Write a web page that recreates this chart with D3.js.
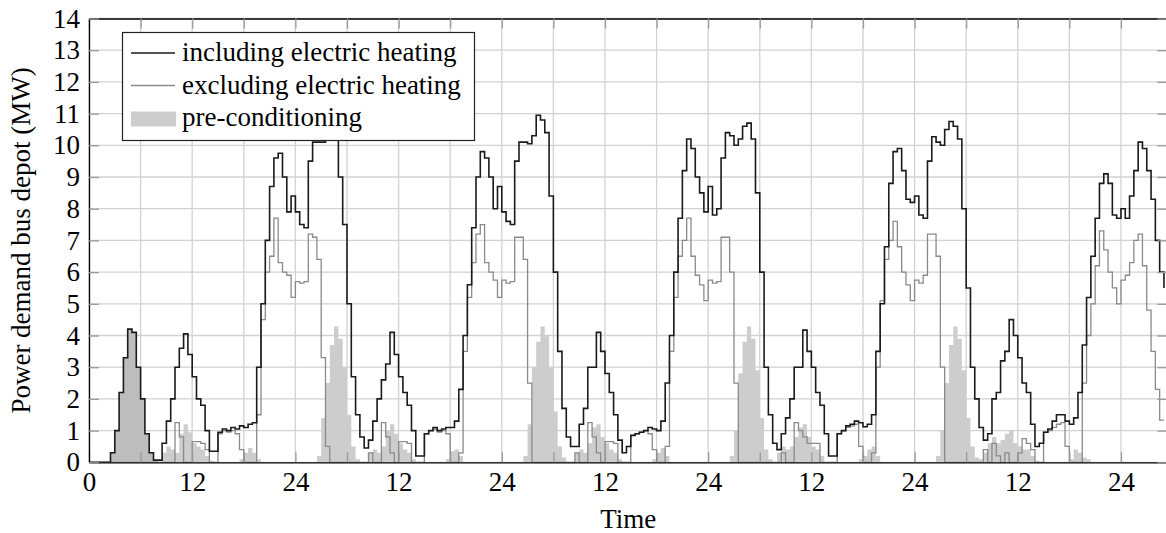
<!DOCTYPE html>
<html>
<head>
<meta charset="utf-8">
<script src="https://cdn.jsdelivr.net/npm/d3@7"></script>
<style>
  body { margin: 0; background: #fff; }
</style>
</head>
<body>
<div class="chart"></div>
<script>
// one value every half hour, hour 0 .. 125 (one row = 12 hours)
const stepHours = 0.5;

const includingHeating = [
  0, 0, 0, 0, 0, 0.3, 1.0, 2.2, 3.3, 4.2, 4.1, 3.0, 2.0, 0.9, 0.3, 0.07, 0.07, 0.6, 1.3, 2.0, 3.0, 3.6, 4.05, 3.4,
  2.7, 2.0, 1.8, 1.0, 0.35, 0.35, 0.95, 1.05, 1.0, 1.1, 1.05, 1.15, 1.1, 1.2, 1.25, 3.0, 5.0, 7.0, 8.7, 9.6, 9.75, 9.0, 7.9, 8.4,
  7.9, 7.5, 7.4, 9.5, 10.1, 10.1, 10.1, 10.4, 10.9, 10.5, 9.0, 7.5, 5.0, 2.7, 1.5, 0.8, 0.45, 0.7, 1.3, 2.0, 2.6, 3.1, 4.1, 3.4,
  2.7, 2.2, 1.8, 1.0, 0.2, 0.2, 0.9, 1.0, 1.1, 1.0, 1.05, 1.1, 1.1, 1.3, 2.3, 4.0, 5.6, 7.4, 9.0, 9.8, 9.6, 9.0, 8.0, 8.7,
  7.9, 7.6, 7.5, 9.5, 10.1, 10.1, 10.05, 10.3, 10.95, 10.8, 10.4, 8.4, 6.0, 3.5, 1.7, 0.8, 0.5, 0.5, 1.2, 1.7, 3.0, 3.0, 4.1, 3.5,
  2.8, 2.2, 1.5, 0.7, 0.3, 0.5, 0.85, 0.9, 0.95, 1.0, 1.1, 1.05, 1.0, 1.3, 2.5, 4.0, 6.0, 7.7, 9.2, 10.2, 9.9, 9.0, 8.5, 7.9,
  8.7, 7.8, 8.0, 9.6, 10.4, 10.3, 10.0, 10.2, 10.6, 10.7, 10.2, 8.5, 6.0, 3.0, 1.5, 0.6, 0.4, 0.9, 1.4, 2.0, 3.0, 3.0, 4.17, 3.5,
  3.0, 2.2, 1.8, 0.9, 0.2, 0.2, 0.9, 1.0, 1.15, 1.2, 1.3, 1.25, 1.12, 1.2, 1.5, 3.5, 5.0, 6.8, 8.8, 9.8, 9.9, 9.2, 8.3, 8.2,
  8.4, 7.8, 7.7, 9.5, 10.27, 10.1, 10.0, 10.5, 10.75, 10.6, 10.2, 8.0, 5.5, 3.0, 2.0, 1.1, 0.7, 0.9, 2.0, 2.2, 3.2, 3.5, 4.5, 4.0,
  3.3, 2.5, 2.2, 1.2, 0.5, 0.6, 0.95, 1.05, 1.3, 1.5, 1.5, 1.3, 1.2, 1.4, 2.2, 3.7, 5.2, 6.5, 7.7, 8.8, 9.1, 8.8, 7.8, 7.7,
  8.0, 7.7, 8.4, 9.2, 10.1, 9.9, 9.2, 8.3, 7.0, 6.0, 5.5
];

const excludingHeating = [
  0, 0, 0, 0, 0, 0, 0, 0, 0, 0, 0, 0, 0, 0, 0, 0, 0, 0, 0, 0, 1.25, 0.8, 0, 0,
  0.65, 0.65, 0.6, 0.4, 0, 0, 0.9, 1.0, 0.95, 1.0, 0.9, 0.4, 0, 0, 0, 1.5, 4.5, 6.0, 6.5, 7.7, 6.3, 6.0, 5.9, 5.2,
  5.7, 5.65, 5.7, 7.2, 7.1, 6.4, 3.3, 0.5, 0, 0, 0, 0, 0, 0, 0, 0, 0, 0.3, 0, 0, 1.25, 0.8, 0.3, 0,
  0.65, 0.65, 0.6, 0, 0, 0, 0.9, 1.0, 1.05, 0.95, 1.0, 0.9, 0, 0, 0.3, 3.5, 5.2, 6.3, 7.2, 7.5, 6.3, 6.0, 5.75, 5.2,
  5.75, 5.65, 5.7, 7.1, 7.1, 6.4, 2.5, 0, 0, 0, 0, 0, 0, 0, 0, 0, 0, 0.3, 0, 0, 1.25, 0.8, 0.3, 0,
  0.65, 0.65, 0.6, 0, 0, 0, 0.85, 0.9, 0.95, 1.0, 0.9, 0.4, 0, 0, 0.5, 3.5, 5.2, 6.5, 7.0, 7.7, 6.5, 5.9, 5.6, 5.1,
  5.75, 5.65, 5.7, 7.1, 7.1, 6.0, 2.5, 0, 0, 0, 0, 0, 0, 0, 0, 0, 0, 0.3, 0, 0, 1.25, 1.0, 0.8, 0.6,
  0.6, 0.6, 0, 0, 0, 0, 0.9, 1.0, 1.1, 1.15, 1.2, 0.5, 0, 0, 0.3, 3.0, 5.1, 6.4, 7.0, 7.6, 6.8, 6.0, 5.6, 5.1,
  5.75, 5.65, 5.9, 7.2, 7.2, 6.5, 3.0, 0, 0, 0, 0, 0, 0, 0, 0, 0, 0.4, 0, 0.6, 0.2, 0, 0.3, 0, 0,
  0.3, 0.75, 0.6, 0.4, 0, 0, 0.95, 1.0, 1.1, 1.2, 1.25, 0.5, 0, 0, 0, 2.5, 4.0, 5.0, 6.2, 7.3, 6.7, 6.0, 5.5, 5.0,
  5.75, 5.9, 6.3, 7.0, 7.2, 6.2, 4.8, 3.5, 2.3, 1.33, 1.33
];

const preconditioning = [
  0, 0, 0, 0, 0, 0.3, 1.0, 2.2, 3.3, 4.2, 4.1, 3.0, 2.0, 0.9, 0.3, 0.05, 0, 0.3, 0.5, 0.4, 0.3, 0.9, 1.2, 0.95,
  0.6, 0.5, 0.4, 0.2, 0.05, 0, 0, 0, 0, 0, 0, 0.1, 0.3, 0.45, 0.3, 0.1, 0, 0, 0, 0, 0, 0, 0, 0,
  0, 0, 0, 0, 0, 0.2, 1.4, 2.5, 3.7, 4.28, 3.9, 3.0, 1.5, 0.5, 0.1, 0, 0, 0.3, 0.4, 0.3, 0.5, 1.0, 1.2, 0.9,
  0.6, 0.4, 0.3, 0.1, 0, 0, 0, 0, 0, 0, 0, 0.1, 0.35, 0.4, 0.2, 0, 0, 0, 0, 0, 0, 0, 0, 0,
  0, 0, 0, 0, 0, 0.2, 1.2, 3.0, 3.8, 4.28, 4.0, 3.0, 1.6, 0.5, 0.15, 0, 0, 0.3, 0.4, 0.3, 0.6, 1.1, 1.2, 0.8,
  0.6, 0.4, 0.3, 0.1, 0, 0, 0, 0, 0, 0, 0, 0.1, 0.3, 0.45, 0.2, 0, 0, 0, 0, 0, 0, 0, 0, 0,
  0, 0, 0, 0, 0, 0.2, 1.0, 2.8, 3.8, 4.28, 3.9, 2.9, 1.4, 0.4, 0.1, 0, 0.3, 0.5, 0.4, 0.5, 0.8, 1.1, 1.2, 0.8,
  0.5, 0.4, 0.2, 0, 0, 0, 0, 0, 0, 0, 0, 0.1, 0.2, 0.4, 0.5, 0.2, 0, 0, 0, 0, 0, 0, 0, 0,
  0, 0, 0, 0, 0, 0.2, 1.0, 2.5, 3.7, 4.28, 3.9, 2.9, 1.4, 0.5, 0.15, 0.1, 0.3, 0.6, 0.8, 0.6, 0.7, 0.9, 1.0, 0.6,
  0.5, 0.4, 0.4, 0.2, 0.05, 0, 0, 0, 0, 0, 0, 0, 0.1, 0.4, 0.3, 0.15, 0.1, 0, 0, 0, 0, 0, 0, 0,
  0, 0, 0, 0, 0, 0, 0, 0, 0, 0, 0
];

// hours before the first departures (darker shading in the original)
const initialPhaseEnd = 8;

const xTickValues = [0, 6, 12, 18, 24, 30, 36, 42, 48, 54, 60, 66, 72, 78, 84, 90, 96, 102, 108, 114, 120];
const xTickLabels = ['0', '', '12', '', '24', '', '12', '', '24', '', '12', '', '24', '', '12', '', '24', '', '12', '', '24'];
const yTickValues = [0, 1, 2, 3, 4, 5, 6, 7, 8, 9, 10, 11, 12, 13, 14];

const legendLabels = ['including electric heating', 'excluding electric heating', 'pre-conditioning'];

const width = 1166;
const height = 533;
const fontFamily = '"Liberation Serif", "Times New Roman", "DejaVu Serif", serif';
const fontSize = 27;
const tickLength = 10;

const color = {
  including: '#1a1a1a',
  excluding: '#8a8a8a',
  fill: '#cdcdcd',
  fillDark: '#bdbdbd',
  grid: '#d2d2d2',
  tick: '#9a9a9a',
};

const hours = includingHeating.map((d, i) => i * stepHours);
const rows = hours.map((h, i) => ({
  h: h,
  inc: includingHeating[i],
  exc: excludingHeating[i],
  pre: preconditioning[i],
}));

const x = d3.scaleLinear()
  .domain([0, 125.4])
  .range([89, 1167.4]);

const y = d3.scaleLinear()
  .domain([0, 14])
  .range([462.3, 18.5]);

const svg = d3.select('.chart')
  .append('svg')
    .attr('width', width)
    .attr('height', height)
    .attr('viewBox', [0, 0, width, height])
    .attr('font-family', fontFamily)
    .attr('font-size', fontSize);

const defs = svg.append('defs');

defs.append('clipPath')
  .attr('id', 'plot-clip')
  .append('rect')
    .attr('x', x(0))
    .attr('y', y(14))
    .attr('width', x.range()[1] - x(0))
    .attr('height', y(0) - y(14));

defs.append('clipPath')
  .attr('id', 'initial-clip')
  .append('rect')
    .attr('x', x(0))
    .attr('y', y(14))
    .attr('width', x(initialPhaseEnd) - x(0))
    .attr('height', y(0) - y(14));

// grid
const grid = svg.append('g').attr('class', 'grid');

grid.selectAll('.vgrid')
  .data(xTickValues)
  .enter().append('line')
    .attr('x1', d => x(d))
    .attr('x2', d => x(d))
    .attr('y1', y(0))
    .attr('y2', y(14))
    .attr('stroke', color.grid)
    .attr('stroke-width', 1.3);

grid.selectAll('.hgrid')
  .data(yTickValues)
  .enter().append('line')
    .attr('x1', x(0))
    .attr('x2', x.range()[1])
    .attr('y1', d => y(d))
    .attr('y2', d => y(d))
    .attr('stroke', color.grid)
    .attr('stroke-width', 1.3);

// data
const plot = svg.append('g').attr('clip-path', 'url(#plot-clip)');

const preArea = d3.area()
  .curve(d3.curveStepAfter)
  .x(d => x(d.h))
  .y0(y(0))
  .y1(d => y(d.pre));

plot.append('path')
  .datum(rows)
  .attr('d', preArea)
  .attr('fill', color.fill);

plot.append('path')
  .datum(rows)
  .attr('d', preArea)
  .attr('fill', color.fillDark)
  .attr('clip-path', 'url(#initial-clip)');

plot.append('path')
  .datum(rows)
  .attr('d', d3.line().curve(d3.curveStepAfter).x(d => x(d.h)).y(d => y(d.exc)))
  .attr('fill', 'none')
  .attr('stroke', color.excluding)
  .attr('stroke-width', 1.3);

plot.append('path')
  .datum(rows)
  .attr('d', d3.line().curve(d3.curveStepAfter).x(d => x(d.h)).y(d => y(d.inc)))
  .attr('fill', 'none')
  .attr('stroke', color.including)
  .attr('stroke-width', 1.6);

// axes (ticks point inwards on all four sides)
const xAxis = svg.append('g')
  .attr('transform', `translate(0, ${y(0)})`)
  .call(d3.axisBottom(x)
    .tickValues(xTickValues)
    .tickFormat((d, i) => xTickLabels[i])
    .tickSizeInner(-tickLength)
    .tickSizeOuter(0)
    .tickPadding(9.5));

const xAxisTop = svg.append('g')
  .attr('transform', `translate(0, ${y(14)})`)
  .call(d3.axisTop(x)
    .tickValues(xTickValues)
    .tickFormat('')
    .tickSizeInner(-tickLength)
    .tickSizeOuter(0));

const yAxis = svg.append('g')
  .attr('transform', `translate(${x(0)}, 0)`)
  .call(d3.axisLeft(y)
    .tickValues(yTickValues)
    .tickFormat(d3.format('d'))
    .tickSizeInner(-tickLength)
    .tickSizeOuter(0)
    .tickPadding(9));

const yAxisRight = svg.append('g')
  .attr('transform', `translate(${x.range()[1]}, 0)`)
  .call(d3.axisRight(y)
    .tickValues(yTickValues)
    .tickFormat('')
    .tickSizeInner(-tickLength)
    .tickSizeOuter(0));

[xAxis, xAxisTop, yAxis, yAxisRight].forEach(axis => {
  axis.attr('font-family', fontFamily)
    .attr('font-size', fontSize);
  axis.select('.domain')
    .attr('stroke', '#000')
    .attr('stroke-width', 1.3);
  axis.selectAll('.tick line')
    .attr('stroke', color.tick)
    .attr('stroke-width', 1.3);
  axis.selectAll('.tick text')
    .attr('fill', '#000');
});

// axis titles
svg.append('text')
  .attr('x', (x(0) + x.range()[1]) / 2)
  .attr('y', 528)
  .attr('text-anchor', 'middle')
  .text('Time');

svg.append('text')
  .attr('transform', `translate(30, ${(y(0) + y(14)) / 2}) rotate(-90)`)
  .attr('text-anchor', 'middle')
  .text('Power demand bus depot (MW)');

// legend
const legend = svg.append('g')
  .attr('class', 'legend');

legend.append('rect')
  .attr('x', 122.5)
  .attr('y', 32.5)
  .attr('width', 352)
  .attr('height', 108)
  .attr('fill', '#fff')
  .attr('stroke', '#222')
  .attr('stroke-width', 1.2);

const legendRow = legend.selectAll('.legend-row')
  .data(legendLabels)
  .enter().append('g')
    .attr('class', 'legend-row')
    .attr('transform', (d, i) => `translate(0, ${61 + i * 32.5})`);

legendRow.append('text')
  .attr('x', 182)
  .attr('y', 0)
  .text(d => d);

legendRow.filter((d, i) => i < 2)
  .append('line')
    .attr('x1', 131)
    .attr('x2', 175)
    .attr('y1', -8)
    .attr('y2', -8)
    .attr('stroke', (d, i) => i === 0 ? color.including : color.excluding)
    .attr('stroke-width', (d, i) => i === 0 ? 1.6 : 1.3);

legendRow.filter((d, i) => i === 2)
  .append('rect')
    .attr('x', 131)
    .attr('y', -14.5)
    .attr('width', 45)
    .attr('height', 15)
    .attr('fill', color.fill);
</script>
</body>
</html>
